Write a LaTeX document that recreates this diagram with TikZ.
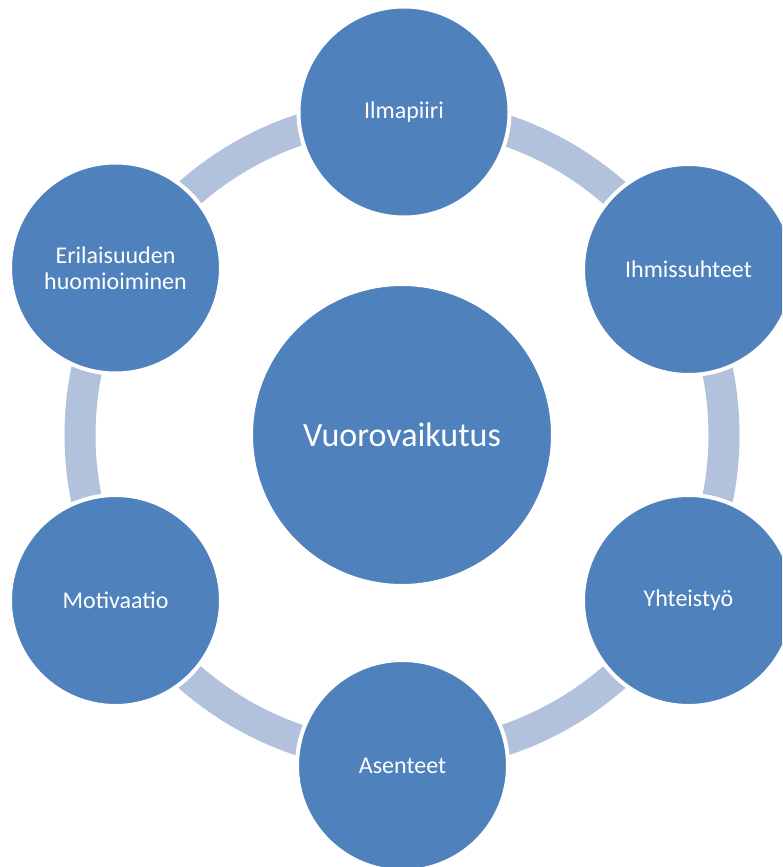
\documentclass[tikz,border=0pt]{standalone}
\usepackage{fontspec}
\setmainfont{Carlito}
\definecolor{bubble}{HTML}{4F81BD}
\definecolor{ringc}{HTML}{B2C2DD}
\begin{document}
\begin{tikzpicture}[x=1pt,y=1pt,
  bubble/.style={circle, fill=bubble, draw=white, line width=4pt, inner sep=0pt,
    minimum size=211pt, text=white, align=center,
    font=\fontsize{24}{26}\selectfont},
  hub/.style={bubble, minimum size=302pt, font=\fontsize{34}{40}\selectfont},
  ringarc/.style={draw=ringc, line width=31pt}]
\useasboundingbox (0,0) rectangle (782,-867);
\clip (0,0) rectangle (782,-867);
\node[hub] (V) at (402,-435) {Vuorovaikutus};
% ring arcs between the outer circles
\draw[ringarc] (V.center) ++(90:322) arc[start angle=90, end angle=30, radius=322];
\draw[ringarc] (V.center) ++(30:322) arc[start angle=30, end angle=-30, radius=322];
\draw[ringarc] (V.center) ++(-30:322) arc[start angle=-30, end angle=-90, radius=322];
\draw[ringarc] (V.center) ++(-90:322) arc[start angle=-90, end angle=-150, radius=322];
\draw[ringarc] (V.center) ++(210:322) arc[start angle=210, end angle=150, radius=322];
\draw[ringarc] (V.center) ++(150:322) arc[start angle=150, end angle=90, radius=322];
\node[bubble] (Il) at (404,-112) {Ilmapiiri};
\node[bubble] (Ih) at (688.5,-269.5) {Ihmissuhteet};
\node[bubble] (Yh) at (688.5,-600.5) {Yhteistyö};
\node[bubble] (As) at (402.5,-765.5) {Asenteet};
\node[bubble] (Mo) at (115.5,-600.5) {Motivaatio};
\node[bubble] (Er) at (115.5,-268) {Erilaisuuden\\huomioiminen};
\end{tikzpicture}
\end{document}
